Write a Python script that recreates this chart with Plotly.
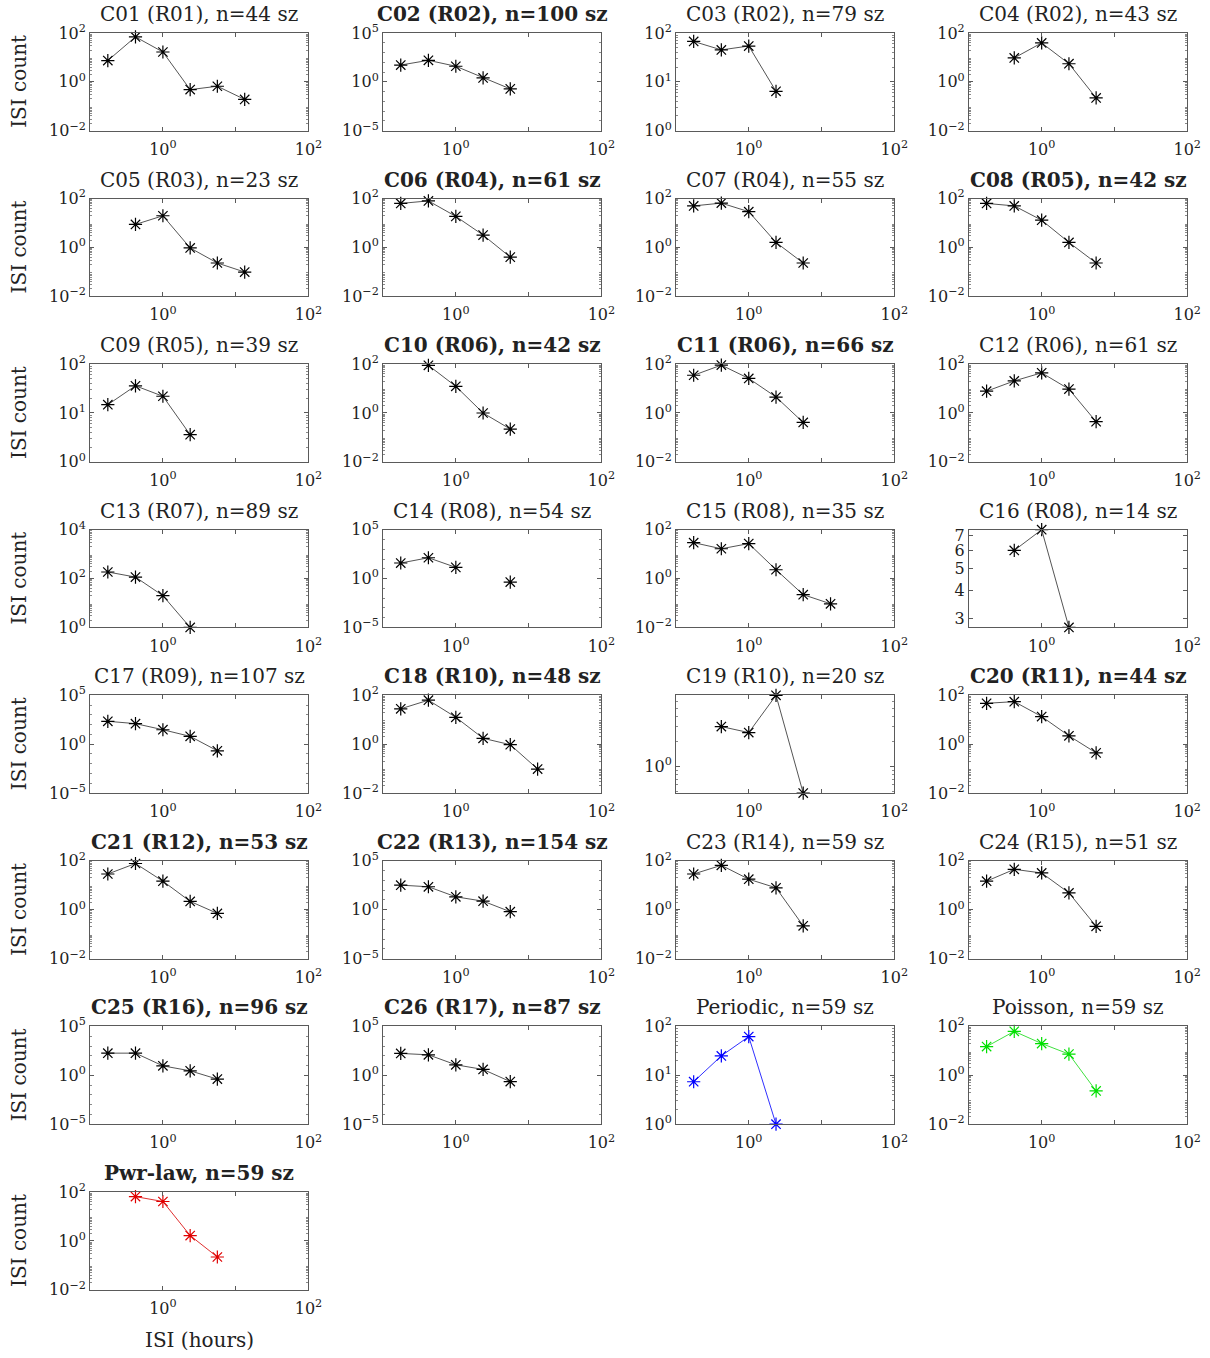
import numpy as np
import plotly.graph_objects as go

# ISI bin centres (hours), shared by every panel
isi_hours = [0.175, 0.42, 1.0, 2.37, 5.6, 13.3]

# ISI counts per panel (None = empty bin)
c01 = [7.4, 69, 16.6, 0.48, 0.66, 0.19]
c02 = [52, 158, 39, 2.5, 0.19, None]
c03 = [67, 45, 54, 6.4, None, None]
c04 = [None, 9.5, 39, 5.5, 0.22, None]
c05 = [None, 8.7, 19.7, 0.95, 0.23, 0.098]
c06 = [63, 80, 18.6, 3.2, 0.4, None]
c07 = [50, 65, 29, 1.6, 0.23, None]
c08 = [63, 50, 13, 1.6, 0.23, None]
c09 = [14.8, 36, 22, 3.6, None, None]
c10 = [None, 89, 12.3, 1.0, 0.22, None]
c11 = [35, 91, 26, 4.5, 0.41, None]
c12 = [7.8, 20.5, 44, 9.5, 0.44, None]
c13 = [186, 115, 20, 1.0, None, None]
c14 = [39, 135, 14, None, 0.44, None]
c15 = [29.5, 16.6, 27, 2.3, 0.22, 0.093]
c16 = [None, 6.0, 7.4, 2.75, None, None]
c17 = [219, 126, 30, 6.3, 0.21, None]
c18 = [28, 63, 12.6, 1.74, 0.95, 0.096]
c19 = [None, 3.0, 2.54, 7.1, 0.48, None]
c20 = [47, 55, 13.5, 2.2, 0.44, None]
c21 = [29, 78, 14.8, 2.2, 0.71, None]
c22 = [330, 224, 21, 7.6, 0.63, None]
c23 = [29, 66, 17.8, 7.9, 0.22, None]
c24 = [14.8, 45, 32, 4.9, 0.21, None]
c25 = [186, 186, 9.3, 2.9, 0.41, None]
c26 = [174, 126, 12, 4.0, 0.23, None]
periodic = [7.4, 25, 62, 1.0, None, None]
poisson = [15, 63, 20, 7.4, 0.23, None]
pwrlaw = [None, 65, 41, 1.66, 0.22, None]

series = [c01, c02, c03, c04, c05, c06, c07, c08, c09, c10, c11, c12, c13,
          c14, c15, c16, c17, c18, c19, c20, c21, c22, c23, c24, c25, c26,
          periodic, poisson, pwrlaw]

titles = ["C01 (R01), n=44 sz", "C02 (R02), n=100 sz", "C03 (R02), n=79 sz",
          "C04 (R02), n=43 sz", "C05 (R03), n=23 sz", "C06 (R04), n=61 sz",
          "C07 (R04), n=55 sz", "C08 (R05), n=42 sz", "C09 (R05), n=39 sz",
          "C10 (R06), n=42 sz", "C11 (R06), n=66 sz", "C12 (R06), n=61 sz",
          "C13 (R07), n=89 sz", "C14 (R08), n=54 sz", "C15 (R08), n=35 sz",
          "C16 (R08), n=14 sz", "C17 (R09), n=107 sz", "C18 (R10), n=48 sz",
          "C19 (R10), n=20 sz", "C20 (R11), n=44 sz", "C21 (R12), n=53 sz",
          "C22 (R13), n=154 sz", "C23 (R14), n=59 sz", "C24 (R15), n=51 sz",
          "C25 (R16), n=96 sz", "C26 (R17), n=87 sz", "Periodic, n=59 sz",
          "Poisson, n=59 sz", "Pwr-law, n=59 sz"]
bold_titles = ["C02", "C06", "C08", "C10", "C11", "C18", "C20", "C21", "C22",
               "C25", "C26", "Pwr-law"]

# y-axis decade limits (None = tight to data)
y_exp_limits = [(-2, 2), (-5, 5), (0, 2), (-2, 2), (-2, 2), (-2, 2), (-2, 2),
                (-2, 2), (0, 2), (-2, 2), (-2, 2), (-2, 2), (0, 4), (-5, 5),
                (-2, 2), None, (-5, 5), (-2, 2), None, (-2, 2), (-2, 2),
                (-5, 5), (-2, 2), (-2, 2), (-5, 5), (-5, 5), (0, 2), (-2, 2),
                (-2, 2)]
colors = ["black"] * 26 + ["#0000ff", "#00e000", "#e00000"]
line_colors = ["#555555"] * 26 + ["#3030ff", "#40e040", "#e03030"]

FONT = "DejaVu Serif"
TXT = "#222222"
W, H = 1210, 1358
# the page is shown slightly scaled and shifted; place things so that
# they land at the intended screen pixels
S, OX, OY = 0.987, 1.0, 11.0


def fx(px):
    return ((px - OX) / S) / W


def fy(py):
    return 1 - ((py - OY) / S) / H


def pow_label(e):
    s = str(e).replace("-", "\u2212")
    return "10<sup>" + s + "</sup>"


def minor_vals(lo, hi):
    out = []
    if hi - lo >= 10:
        return [10.0 ** e for e in range(int(np.floor(lo)), int(np.ceil(hi)) + 1)]
    for e in range(int(np.floor(lo)) - 1, int(np.ceil(hi)) + 1):
        for k in range(2, 10):
            v = k * 10.0 ** e
            if lo <= np.log10(v) <= hi:
                out.append(v)
    return out


fig = go.Figure()
layout = dict(width=W, height=H, margin=dict(l=0, r=0, t=0, b=0),
              paper_bgcolor="white", plot_bgcolor="white", showlegend=False,
              font=dict(family=FONT, color=TXT))
annotations = []

for i, vals in enumerate(series):
    n = i + 1
    row, col = divmod(i, 4)
    left = 91 + 292.5 * col
    top = 33 + 166 * row
    xd = [fx(left), fx(left + 218)]
    yd = [fy(top + 98), fy(top)]
    xs = "" if n == 1 else str(n)

    fig.add_trace(go.Scatter(
        x=isi_hours, y=vals, mode="lines+markers", connectgaps=False,
        cliponaxis=False, xaxis="x" + xs, yaxis="y" + xs,
        line=dict(color=line_colors[i], width=1),
        marker=dict(symbol="asterisk-open", size=11,
                    line=dict(color=colors[i], width=1.2), color=colors[i])))

    axis_common = dict(type="log", showgrid=False, zeroline=False,
                       showline=True, linecolor="#5a5a5a", linewidth=1,
                       mirror="ticks", ticks="inside", ticklen=4,
                       tickcolor="#5a5a5a",
                       tickfont=dict(family=FONT, size=16, color=TXT))
    layout["xaxis" + xs] = dict(axis_common, domain=xd, anchor="y" + xs,
                                range=[-1, 2], tickmode="array",
                                tickvals=[1, 10, 100], ticklabelstandoff=4,
                                ticktext=[pow_label(0), "", pow_label(2)])

    lim = y_exp_limits[i]
    if lim is None:
        finite = [v for v in vals if v is not None]
        yr = [np.log10(min(finite)) - 1e-4, np.log10(max(finite)) + 1e-4]
        if n == 16:
            tv = [3, 4, 5, 6, 7]
            tt = [str(t) for t in tv]
        else:
            tv = [1]
            tt = [pow_label(0)]
    else:
        lo, hi = lim
        yr = [lo, hi]
        step = {4: 2, 10: 5, 2: 1}[hi - lo]
        exps = list(range(lo, hi + 1, step))
        tv = [10.0 ** e for e in exps]
        tt = [pow_label(e) for e in exps]
    mv = [v for v in minor_vals(yr[0], yr[1]) if v not in tv]
    layout["yaxis" + xs] = dict(axis_common, domain=yd, anchor="x" + xs,
                                range=yr, tickmode="array", tickvals=tv,
                                ticktext=tt,
                                minor=dict(tickmode="array", tickvals=mv,
                                           ticks="inside", ticklen=2,
                                           tickcolor="#8a8a8a",
                                           showgrid=False))

    t = titles[i]
    if t.split(" ")[0].rstrip(",") in bold_titles:
        t = "<b>" + t + "</b>"
    annotations.append(dict(text=t, x=(xd[0] + xd[1]) / 2, y=fy(top - 5),
                            xref="paper", yref="paper", xanchor="center",
                            yanchor="bottom", showarrow=False,
                            font=dict(family=FONT, size=20, color=TXT)))
    if col == 0:
        annotations.append(dict(text="ISI count", x=fx(20),
                                y=(yd[0] + yd[1]) / 2, xref="paper",
                                yref="paper", xanchor="center",
                                yanchor="middle", textangle=-90,
                                showarrow=False,
                                font=dict(family=FONT, size=20, color=TXT)))

annotations.append(dict(text="ISI (hours)", x=fx(200), y=fy(1343),
                        xref="paper", yref="paper", xanchor="center",
                        yanchor="middle", showarrow=False,
                        font=dict(family=FONT, size=20, color=TXT)))
layout["annotations"] = annotations
fig.update_layout(**layout)
fig.write_html("out.html")
